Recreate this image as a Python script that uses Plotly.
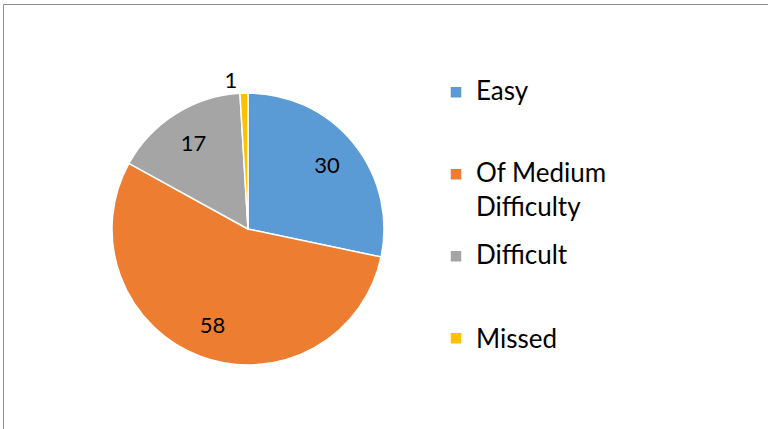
import plotly.graph_objects as go

categories = ["Easy", "Of Medium Difficulty", "Difficult", "Missed"]
values = [30, 58, 17, 1]
colors = ["#5B9BD5", "#ED7D31", "#A5A5A5", "#FFC000"]

W, H = 768, 429
cx, cy, R = 248, 229, 136
TEXT_PX = 26          # legend text size
SUB_LINES = 14        # each legend slot is built from thin lines for Excel-like spacing
SLOT = 82             # vertical distance between legend entries
LEG_FONT = (SLOT - 3) / SUB_LINES / 1.3
PAD = "&nbsp;"


def legend_label(name, last=False):
    big = lambda s: f"<span style='font-size:{TEXT_PX}px'>{s}</span>"
    lines = [PAD] * (1 if last else SUB_LINES)
    if name.startswith("Of Medium "):
        lines[1] = big("Of Medium")
        lines[7] = big(name[len("Of Medium "):])
    else:
        if last:
            lines.append(big(name))
        else:
            lines[1] = big(name)
    return "<br>".join(lines)


legend_labels = [legend_label(c, i == len(categories) - 1) for i, c in enumerate(categories)]
domain = dict(x=[(cx - R) / W, (cx + R) / W], y=[(H - cy - R) / H, (H - cy + R) / H])

fig = go.Figure()
fig.add_trace(go.Pie(
    labels=legend_labels,
    values=values,
    sort=False,
    direction="clockwise",
    rotation=0,
    marker=dict(colors=colors, line=dict(color="white", width=1.5)),
    textinfo="none",
    hovertext=categories,
    hoverinfo="text+value",
    domain=domain,
))
# transparent ring overlay used only to place the value labels at ~3/4 radius
fig.add_trace(go.Pie(
    labels=legend_labels,
    values=values,
    sort=False,
    direction="clockwise",
    rotation=0,
    hole=0.5,
    showlegend=False,
    marker=dict(colors=["rgba(0,0,0,0)"] * len(values), line=dict(width=0)),
    textinfo="value",
    textposition=["inside", "inside", "inside", "outside"],
    insidetextorientation="horizontal",
    textfont=dict(family="Lato", size=22, color="#000000"),
    outsidetextfont=dict(family="Lato", size=22, color="#000000"),
    hoverinfo="skip",
    domain=domain,
))

fig.update_layout(
    width=W, height=H,
    margin=dict(l=0, r=0, t=0, b=0),
    paper_bgcolor="white",
    showlegend=True,
    legend=dict(x=436 / W, y=1 - 70 / H, xanchor="left", yanchor="top",
                title=dict(text="&nbsp;", font=dict(family="Lato", size=10)),
                font=dict(family="Lato", size=LEG_FONT, color="#000000"),
                valign="top", itemwidth=30, bgcolor="rgba(0,0,0,0)"),
    shapes=[dict(type="rect", xref="paper", yref="paper",
                 x0=3.5 / W, x1=1.05, y0=-0.05, y1=1 - 4.5 / H,
                 line=dict(color="#8e8e8e", width=1))],
)

fig.write_html("out.html", config={"displayModeBar": False},
               post_script="document.body.style.margin='0';")
